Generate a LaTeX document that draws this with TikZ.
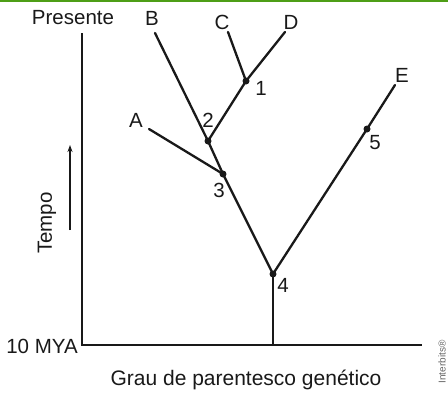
\documentclass[tikz,border=0pt]{standalone}
\usepackage{fontspec}
\setmainfont{Liberation Sans}
\usetikzlibrary{arrows.meta}
\definecolor{barGreen}{RGB}{78,158,22}
\definecolor{ink}{RGB}{25,25,25}
\begin{document}
\begin{tikzpicture}[x=1pt,y=-1pt,
  branch/.style={line width=2.3pt, draw=ink, line cap=round},
  axisline/.style={line width=1.5pt, draw=ink},
  junction/.style={circle, fill=ink, inner sep=0pt, minimum size=7pt},
  lbl/.style={font=\fontsize{20.5}{22}\selectfont, text=ink, inner sep=0pt},
  axislbl/.style={font=\fontsize{21}{23}\selectfont, text=ink, inner sep=0pt}]
\useasboundingbox (0,0) rectangle (448,394);
\fill[barGreen] (0,0) rectangle (448,1.6);

% axes
\coordinate (axtop) at (82,33);
\coordinate (axorig) at (82,345);
\coordinate (axend) at (422,345);
\draw[axisline] (axtop) -- (axorig) -- (axend);

% time arrow
\coordinate (tbot) at (70,230);
\coordinate (ttop) at (70,145);
\draw[line width=1.1pt, draw=ink, -{Stealth[length=7pt,width=5pt]}] (tbot) -- (ttop);
\node[lbl, rotate=90] (tempo) at (47,223) {Tempo};

% tree junctions
\node[junction] (n1) at (246,81) {};
\node[junction] (n2) at (208,141) {};
\node[junction] (n3) at (223,174) {};
\node[junction] (n4) at (273,274) {};
\node[junction] (n5) at (367,129) {};
\coordinate (tA) at (149,129);
\coordinate (tB) at (155,33);
\coordinate (tC) at (228,32);
\coordinate (tD) at (285,32);
\coordinate (tE) at (395,85);
\coordinate (root) at (273,345);

\draw[branch] (tB.center) -- (n2.center) -- (n3.center) -- (n4.center) -- (n5.center) -- (tE);
\draw[branch] (tA) -- (n3.center);
\draw[branch] (n2.center) -- (n1.center) -- (tD);
\draw[branch] (tC) -- (n1.center);
\draw[branch, line cap=butt] (n4.center) -- (root);

% labels
\node[lbl] (lP) at (73,18) {Presente};
\node[lbl] (lB) at (152,18) {B};
\node[lbl] (lC) at (222,22) {C};
\node[lbl] (lD) at (291,22) {D};
\node[lbl] (lA) at (136,120) {A};
\node[lbl] (lE) at (402,75) {E};
\node[lbl] (l1) at (261,88) {1};
\node[lbl] (l2) at (208,120) {2};
\node[lbl] (l3) at (219,190) {3};
\node[lbl] (l4) at (283,285) {4};
\node[lbl] (l5) at (375,143) {5};
\node[lbl] (lmya) at (42,346) {10 MYA};
\node[axislbl] (lgrau) at (246,380) {Grau de parentesco genético};
\node[font=\fontsize{10}{11}\selectfont, text=gray!80!black, rotate=90, inner sep=0pt] (credit) at (442,362) {Interbits®};
\end{tikzpicture}
\end{document}
